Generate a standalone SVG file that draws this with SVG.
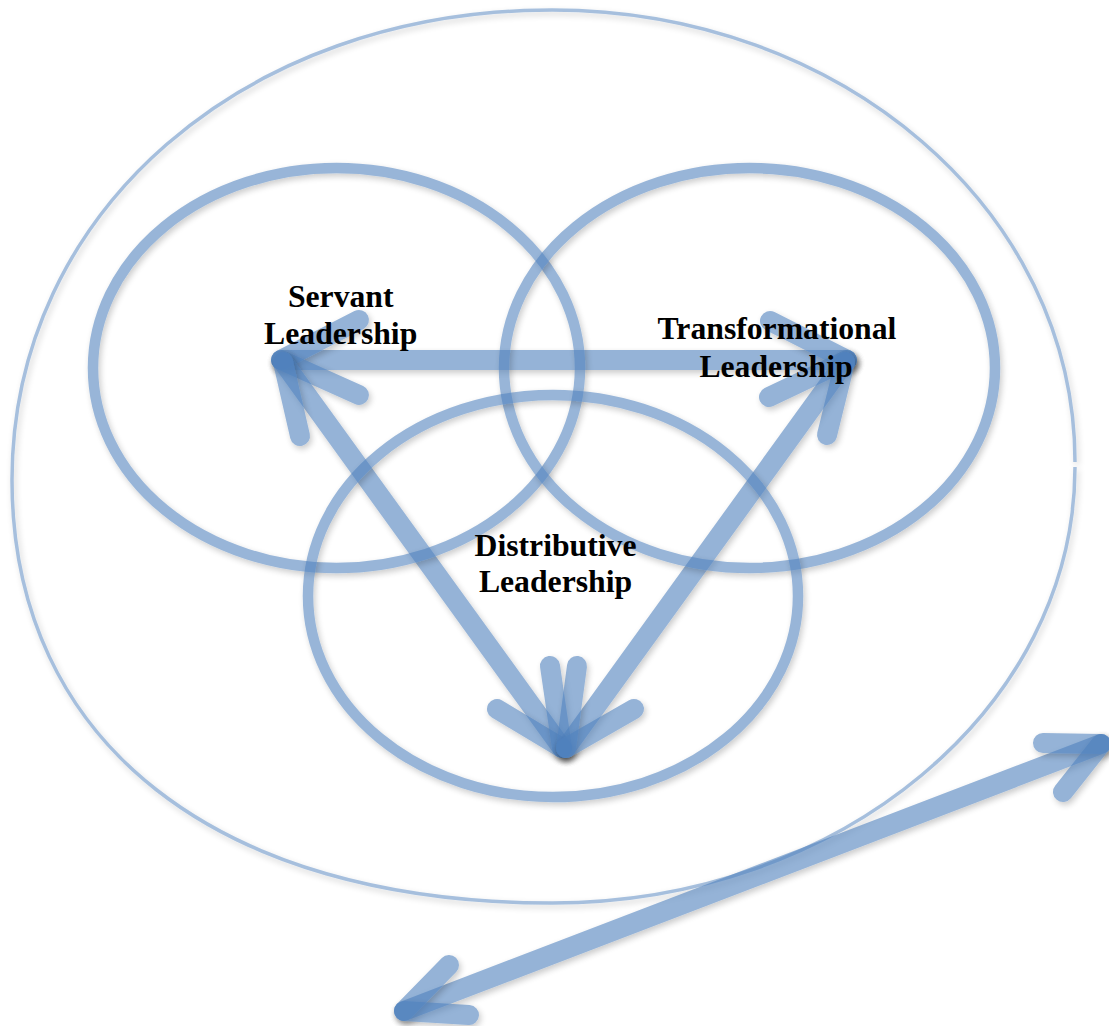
<svg xmlns="http://www.w3.org/2000/svg" width="1109" height="1026" viewBox="0 0 1109 1026">
<defs>
<filter id="sh" filterUnits="userSpaceOnUse" x="0" y="0" width="1109" height="1026">
<feDropShadow dx="2" dy="3" stdDeviation="3" flood-color="#000" flood-opacity="0.35"/>
</filter>
<style>
.outer{fill:none;stroke:#4F81BD;stroke-width:3.5;opacity:0.5;filter:url(#sh)}
.ring{fill:none;stroke:#4F81BD;stroke-width:10.5;opacity:0.58;filter:url(#sh)}
.arw{fill:none;stroke:#4F81BD;stroke-width:20;stroke-linecap:round;opacity:0.6;filter:url(#sh)}
.lbl{font-family:"Liberation Serif","Times New Roman",serif;font-weight:bold;font-size:31.7px;fill:#000;text-anchor:middle}
</style>
</defs>
<rect width="1109" height="1026" fill="#fff"/>

<g id="outer-boundary">
<path class="outer" d="M1075,467 C1075,707 841,903 552,903 C217,903 12,742 12,480 C12,212 244,10 552,10 C841,10 1075,210 1075,462"/>
</g>

<g id="connectors">
<!-- Servant <-> Transformational -->
<line class="arw" x1="281" y1="360" x2="847" y2="360"/>
<line class="arw" x1="281" y1="360" x2="359" y2="320"/>
<line class="arw" x1="281" y1="360" x2="359" y2="395"/>
<line class="arw" x1="847" y1="360" x2="770" y2="321"/>
<line class="arw" x1="847" y1="360" x2="769" y2="397"/>
<!-- Servant <-> Distributive -->
<line class="arw" x1="283" y1="362" x2="562" y2="748"/>
<line class="arw" x1="283" y1="362" x2="300" y2="436"/>
<line class="arw" x1="562" y1="748" x2="497" y2="709"/>
<line class="arw" x1="562" y1="748" x2="550" y2="666"/>
<!-- Transformational <-> Distributive -->
<line class="arw" x1="845" y1="362" x2="566" y2="748"/>
<line class="arw" x1="845" y1="362" x2="827" y2="435"/>
<line class="arw" x1="566" y1="748" x2="577" y2="666"/>
<line class="arw" x1="566" y1="748" x2="634" y2="709"/>
<!-- outward arrow -->
<line class="arw" x1="404" y1="1011" x2="1101" y2="744"/>
<line class="arw" x1="404" y1="1011" x2="449" y2="965"/>
<line class="arw" x1="404" y1="1011" x2="469" y2="1015"/>
<line class="arw" x1="1101" y1="744" x2="1043" y2="743"/>
<line class="arw" x1="1101" y1="744" x2="1063" y2="792"/>
</g>

<g id="servant">
<ellipse class="ring" cx="336.5" cy="368" rx="243.5" ry="200"/>
<text class="lbl" x="340.7" y="307">Servant</text>
<text class="lbl" x="340.7" y="343.5">Leadership</text>
</g>

<g id="transformational">
<ellipse class="ring" cx="749.5" cy="368" rx="245.5" ry="200"/>
<text class="lbl" x="777" y="338.5">Transformational</text>
<text class="lbl" x="776" y="376.5">Leadership</text>
</g>

<g id="distributive">
<ellipse class="ring" cx="553" cy="596" rx="245" ry="201"/>
<text class="lbl" x="555.5" y="555.5">Distributive</text>
<text class="lbl" x="555.5" y="592">Leadership</text>
</g>
</svg>
